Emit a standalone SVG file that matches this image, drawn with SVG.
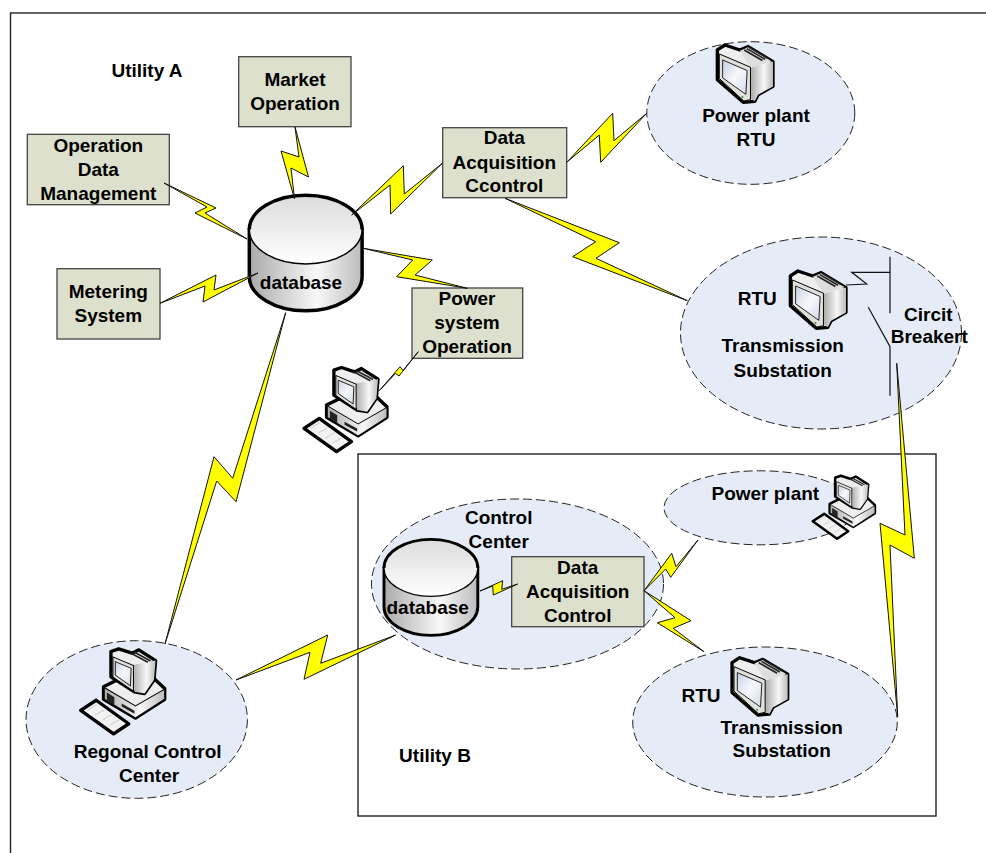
<svg xmlns="http://www.w3.org/2000/svg" width="986" height="853" viewBox="0 0 986 853">
<style>
.t{font-family:"Liberation Sans",Arial,sans-serif;font-weight:bold;font-size:19px;fill:#000;text-anchor:middle}
.box{fill:#dde0cc;stroke:#444;stroke-width:1.3}
.ell{fill:#e6ecf7;stroke:#222;stroke-width:1;stroke-dasharray:9 4}
.bolt{fill:#ffff00;stroke:#111;stroke-width:1;stroke-linejoin:miter}
.ln{fill:none;stroke:#111;stroke-width:1.2}
.frame{fill:none;stroke:#222;stroke-width:1.4}
</style>
<defs>
<linearGradient id="gs" x1="0" x2="1" y1="0" y2="0"><stop offset="0" stop-color="#aaa"/><stop offset=".6" stop-color="#f8f8f8"/><stop offset="1" stop-color="#bbb"/></linearGradient>
<linearGradient id="gt" x1="0" x2="0" y1="0" y2="1"><stop offset="0" stop-color="#dcdcdc"/><stop offset="1" stop-color="#fff"/></linearGradient>
<linearGradient id="gg" x1="0" x2="1" y1="0" y2="1"><stop offset="0" stop-color="#c6d0e4"/><stop offset=".5" stop-color="#f6f8fc"/><stop offset="1" stop-color="#d2dae8"/></linearGradient>
<symbol id="mon" viewBox="0 0 175 178" overflow="visible">
<path d="M4 18L27 3L72 18L97 8L172 53L172 128L127 153L117 173L82 176L4 108Z" fill="#eee" stroke="#000" stroke-width="10" stroke-linejoin="round"/>
<path d="M104 72L172 53L172 128L127 153L117 173L106 165Z" fill="url(#gs)"/>
<path d="M72 20L104 72L168 52L97 10Z" fill="#dedede"/>
<path d="M85 18L140 50M93 14L148 46M101 11L156 43" stroke="#222" stroke-width="5"/>
<path d="M10 30L104 70L104 168L84 172L10 104Z" fill="#e0e0dc" stroke="#000" stroke-width="3"/>
<path d="M20 48L94 80L90 152L20 102Z" fill="url(#gg)" stroke="#222" stroke-width="3"/>
<circle cx="80" cy="160" r="3" fill="#2a9a2a"/>
</symbol>
<symbol id="pc" viewBox="0 0 253 255" overflow="visible">
<path d="M68 115L108 95L218 90L250 120L250 152L163 208L68 152Z" fill="#eee" stroke="#000" stroke-width="10" stroke-linejoin="round"/>
<path d="M70 117L163 172L250 122L250 152L163 208L70 152Z" fill="url(#gs)" stroke="#000" stroke-width="3"/>
<path d="M78 132L100 146L100 170L78 156ZM122 165L160 186L160 195L122 174Z" fill="#222"/>
<path d="M90 10L113 2L153 15L173 5L223 37L218 95L190 135L160 130L90 85Z" fill="#eee" stroke="#000" stroke-width="10" stroke-linejoin="round"/>
<path d="M155 50L223 37L218 95L190 135L160 130Z" fill="url(#gs)"/>
<path d="M150 15L200 42M158 11L208 38" stroke="#222" stroke-width="5"/>
<path d="M96 26L157 52L157 128L96 86Z" fill="#e0e0dc" stroke="#000" stroke-width="3"/>
<path d="M103 40L150 60L148 112L103 80Z" fill="url(#gg)" stroke="#222" stroke-width="3"/>
<path d="M0 185L46 155L143 225L98 255Z" fill="#f2f2f2" stroke="#000" stroke-width="10" stroke-linejoin="round"/>
<path d="M20 185L48 168M42 200L70 183M64 215L92 198M86 230L114 213" stroke="#ccc" stroke-width="3"/>
</symbol>
<symbol id="db" viewBox="0 0 114 116" overflow="visible">
<path d="M0 34.5V81.5A56.7 34.5 0 0 0 113.4 81.5V34.5Z" fill="url(#gs)" stroke="#000" stroke-width="3.5"/>
<ellipse cx="56.7" cy="34.5" rx="56.7" ry="34.5" fill="url(#gt)" stroke="#000" stroke-width="1.5"/>
<path d="M0 34.5A56.7 34.5 0 0 1 113.4 34.5" fill="none" stroke="#000" stroke-width="3.5"/>
</symbol>
</defs>
<rect width="986" height="853" fill="#fff"/>
<rect class="frame" x="10.5" y="13" width="980" height="850"/>
<rect class="frame" x="358" y="454" width="578" height="362"/>

<g id="ell-plant-rtu"><ellipse class="ell" cx="750.8" cy="113" rx="104" ry="71.3"/></g>
<g id="ell-trans-a"><ellipse class="ell" cx="821" cy="333" rx="140.5" ry="96"/></g>
<g id="ell-control"><ellipse class="ell" cx="517.5" cy="584" rx="146" ry="85"/></g>
<g id="ell-plant-b"><ellipse class="ell" cx="760" cy="507.8" rx="96" ry="37"/></g>
<g id="ell-regional"><ellipse class="ell" cx="136.7" cy="719.5" rx="110.7" ry="78.8"/></g>
<g id="ell-trans-b"><ellipse class="ell" cx="765" cy="722" rx="132.3" ry="75"/></g>

<g id="market"><rect class="box" x="238.7" y="56.7" width="112.3" height="70"/><text class="t" x="295" y="85.7">Market</text><text class="t" x="295" y="110">Operation</text></g>
<g id="opdata"><rect class="box" x="27.3" y="134.3" width="142" height="70.4"/><text class="t" x="98.3" y="151.7">Operation</text><text class="t" x="98.3" y="175.7">Data</text><text class="t" x="98.3" y="199.7">Management</text></g>
<g id="metering"><rect class="box" x="57" y="268.7" width="103" height="70.3"/><text class="t" x="108.3" y="298.3">Metering</text><text class="t" x="108.3" y="322.3">System</text></g>
<g id="daq-a"><rect class="box" x="442.7" y="127.7" width="124" height="70"/><text class="t" x="504.3" y="144.3">Data</text><text class="t" x="504.3" y="168.7">Acquisition</text><text class="t" x="504.3" y="192.3">Ccontrol</text></g>
<g id="powersys"><rect class="box" x="412" y="288" width="110.7" height="70.3"/><text class="t" x="467" y="305">Power</text><text class="t" x="467" y="329">system</text><text class="t" x="467" y="352.7">Operation</text></g>
<g id="daq-b"><rect class="box" x="511.7" y="556.7" width="132.3" height="70"/><text class="t" x="577.7" y="574">Data</text><text class="t" x="577.7" y="597.7">Acquisition</text><text class="t" x="577.7" y="621.7">Control</text></g>

<g id="db-a"><use href="#db" x="249.3" y="195" width="113.4" height="116"/><text class="t" x="301" y="289">database</text></g>
<g id="db-b"><use href="#db" x="384" y="539" width="94.3" height="96.7"/><text class="t" x="427.7" y="614.3">database</text></g>

<g id="mon-plant"><use href="#mon" x="716" y="44" width="58" height="59"/><text class="t" x="756" y="121.7">Power plant</text><text class="t" x="756" y="145.7">RTU</text></g>
<g id="mon-trans-a"><use href="#mon" x="789" y="270" width="58" height="59"/><text class="t" x="757.3" y="305">RTU</text><text class="t" x="782.7" y="352.3">Transmission</text><text class="t" x="782.7" y="376.7">Substation</text></g>
<g id="breaker"><text class="t" x="928.3" y="320.7">Circit</text><text class="t" x="929.3" y="343.3">Breakert</text></g>
<g id="mon-trans-b"><use href="#mon" x="730.7" y="656.7" width="58" height="59"/><text class="t" x="701" y="702.3">RTU</text><text class="t" x="781.7" y="734">Transmission</text><text class="t" x="781.7" y="757.3">Substation</text></g>
<g id="pc-op"><use href="#pc" x="304" y="366.7" width="84" height="85"/></g>
<g id="pc-regional"><use href="#pc" x="80.7" y="648" width="85" height="86"/><text class="t" x="147.7" y="758.3">Regonal Control</text><text class="t" x="149" y="782.3">Center</text></g>
<g id="pc-plant"><use href="#pc" x="812.7" y="475" width="63" height="64"/><text class="t" x="765.3" y="500">Power plant</text></g>
<g id="control"><text class="t" x="498.7" y="524.3">Control</text><text class="t" x="498.7" y="547.7">Center</text></g>
<g id="labels"><text class="t" x="147" y="77.3">Utility A</text><text class="t" x="435" y="761.5">Utility B</text></g>

<g id="connectors">
<polygon class="bolt" points="295,127 308.5,177 291,168 294.5,199 281,151 299,157"/>
<polygon class="bolt" points="164,183 216,208 205,213 247,239 195,213 207,207"/>
<polygon class="bolt" points="160,303.3 216,275 214,290 258,273 203,302 205,286"/>
<polygon class="bolt" points="351.7,215 403.3,165.7 404.3,194 442.3,163.3 390.7,214 390,185"/>
<polygon class="bolt" points="566.7,162.3 612.7,113.3 614,140.7 646.7,113.3 600.7,162.3 599.3,135"/>
<polygon class="bolt" points="505,198.3 619.3,242.7 596,258.3 687.3,300.7 572.7,256.7 595.7,241.7"/>
<polygon class="bolt" points="363.3,248.3 432.3,260 415,275 467.3,288.3 396.7,276.7 412.7,260"/>
<polygon class="bolt" points="379.3,390.7 400,366.7 403,370.5 418.3,351.7 399,376 395.5,373.5"/>
<polygon class="bolt" points="285.7,312.7 236,501.7 216.7,481 165,644 214,456.7 232.7,478.3"/>
<polygon class="bolt" points="236,680 327.7,635 320.7,663.3 395.7,635 304,679.3 310,652.3"/>
<polygon class="bolt" points="480,591 502.7,580.7 501.7,589.3 517.7,584 493.3,595 492.7,586"/>
<polygon class="bolt" points="644,590.7 671.7,553.3 676,566.7 698,540 670.7,577.3 665.7,569"/>
<polygon class="bolt" points="644,590.7 691,620.7 673.3,628.3 704,651.7 657.3,622.7 675,617.7"/>
<polygon class="bolt" points="896.7,363.3 914.3,558.3 890,545 897.7,716.7 880,523.3 905,535"/>
<path class="ln" d="M846 285L866.7 284L851.7 272.3H890M890 256.7V313.3M868.3 307.3L890 346.7V395.7"/>
</g>
</svg>
